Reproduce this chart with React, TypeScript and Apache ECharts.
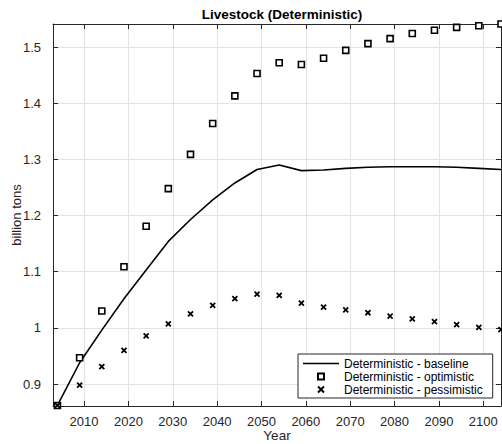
import React, { useEffect, useRef } from "react";
import * as echarts from "echarts";

const years = [2004, 2009, 2014, 2019, 2024, 2029, 2034, 2039, 2044, 2049, 2054, 2059, 2064, 2069, 2074, 2079, 2084, 2089, 2094, 2099, 2104];
const baseline = [0.862, 0.938, 0.996, 1.052, 1.103, 1.154, 1.193, 1.228, 1.258, 1.282, 1.290, 1.280, 1.281, 1.284, 1.286, 1.287, 1.287, 1.287, 1.286, 1.284, 1.282];
const optimistic = [0.862, 0.947, 1.030, 1.109, 1.181, 1.248, 1.309, 1.364, 1.413, 1.453, 1.472, 1.469, 1.480, 1.494, 1.506, 1.515, 1.524, 1.530, 1.535, 1.538, 1.541];
const pessimistic = [0.862, 0.898, 0.931, 0.960, 0.986, 1.007, 1.025, 1.040, 1.052, 1.060, 1.058, 1.044, 1.037, 1.032, 1.027, 1.021, 1.016, 1.011, 1.006, 1.001, 0.997];
const seriesNames = ["Deterministic - baseline", "Deterministic - optimistic", "Deterministic - pessimistic"];

const FONT = "'Liberation Sans', Arial, Helvetica, sans-serif";
const AXIS = "#262626";

export default function App() {
  const ref = useRef<HTMLDivElement>(null);
  useEffect(() => {
    const chart = echarts.init(ref.current!, null, { renderer: "svg" });
    const pair = (vals: number[]) => years.map((y, i) => [y, vals[i]]);
    const xCommon = {
      type: "value" as const,
      min: 2003,
      max: 2104,
      splitNumber: 10,
    };
    const yCommon = {
      type: "value" as const,
      min: 0.861,
      max: 1.541,
      splitNumber: 7,
    };
    chart.setOption({
      animation: false,
      backgroundColor: "#ffffff",
      textStyle: { fontFamily: FONT },
      title: {
        text: "Livestock (Deterministic)",
        left: 277,
        top: 2,
        textAlign: "center",
        textStyle: { fontSize: 13.5, fontWeight: "bold", color: "#000", fontFamily: FONT },
      },
      grid: { left: 53, right: 1, top: 24, bottom: 38, show: false, containLabel: false, outerBoundsMode: "none" },
      legend: {
        orient: "vertical",
        left: 298,
        top: 354,
        data: [
          { name: seriesNames[0], icon: "path://M0 0H36V1.6H0Z" },
          { name: seriesNames[1], icon: "path://M0 0H10V10H0Z" },
          { name: seriesNames[2] },
        ],
        itemWidth: 36,
        itemHeight: 6,
        itemGap: 0,
        padding: [3, 10, 2, 5],
        backgroundColor: "#ffffff",
        borderColor: AXIS,
        borderWidth: 1,
        borderRadius: 0,
        textStyle: { fontSize: 12, color: "#000", fontFamily: FONT, lineHeight: 13 },
      },
      xAxis: [
        {
          ...xCommon,
          position: "bottom",
          name: "Year",
          nameLocation: "middle",
          nameGap: 22,
          nameMoveOverlap: false,
          nameTextStyle: { fontSize: 13.5, color: AXIS, fontFamily: FONT, lineHeight: 14 },
          axisLine: { show: true, lineStyle: { color: AXIS, width: 1 } },
          axisTick: { show: true, inside: true, length: 5, lineStyle: { color: AXIS } },
          axisLabel: {
            show: true,
            showMinLabel: false,
            showMaxLabel: false,
            fontSize: 13,
            lineHeight: 13,
            color: AXIS,
            margin: 9,
            fontFamily: FONT,
            formatter: (v: number) => String(v),
          },
          splitLine: { show: true, lineStyle: { color: "#e3e3e3", width: 1 } },
        },
        {
          ...xCommon,
          position: "top",
          axisLine: { show: true, lineStyle: { color: AXIS, width: 1 } },
          axisTick: { show: true, inside: true, length: 5, lineStyle: { color: AXIS } },
          axisLabel: { show: false },
          splitLine: { show: false },
        },
      ],
      yAxis: [
        {
          ...yCommon,
          position: "left",
          name: "billion tons",
          nameLocation: "middle",
          nameGap: 30,
          nameRotate: 90,
          nameMoveOverlap: false,
          nameTextStyle: { fontSize: 13, color: AXIS, fontFamily: FONT },
          axisLine: { show: true, lineStyle: { color: AXIS, width: 1 } },
          axisTick: { show: true, inside: true, length: 5, lineStyle: { color: AXIS } },
          axisLabel: { show: true, showMinLabel: false, showMaxLabel: false, fontSize: 13, color: AXIS, margin: 12, fontFamily: FONT },
          splitLine: { show: true, lineStyle: { color: "#e3e3e3", width: 1 } },
        },
        {
          ...yCommon,
          position: "right",
          axisLine: { show: true, lineStyle: { color: AXIS, width: 1 } },
          axisTick: { show: true, inside: true, length: 5, lineStyle: { color: AXIS } },
          axisLabel: { show: false },
          splitLine: { show: false },
        },
      ],
      series: [
        {
          name: seriesNames[0],
          type: "line",
          xAxisIndex: 0,
          yAxisIndex: 0,
          data: pair(baseline),
          symbol: "none",
          lineStyle: { color: "#000", width: 1.6 },
          itemStyle: { color: "#000" },
          z: 3,
        },
        {
          name: seriesNames[1],
          type: "scatter",
          xAxisIndex: 0,
          yAxisIndex: 0,
          data: pair(optimistic),
          symbol: "rect",
          symbolSize: 6,
          itemStyle: { color: "#ffffff", borderColor: "#000", borderWidth: 1.6, opacity: 1 },
          z: 4,
        },
        {
          name: seriesNames[2],
          type: "scatter",
          xAxisIndex: 0,
          yAxisIndex: 0,
          data: pair(pessimistic),
          symbol: "path://M0 0L10 10M10 0L0 10",
          symbolSize: 5,
          itemStyle: { color: "none", borderColor: "#000", borderWidth: 1.8, opacity: 1 },
          z: 5,
        },
      ],
    });
    return () => chart.dispose();
  }, []);
  return <div ref={ref} style={{ position: "fixed", left: 0, top: 0, width: 502, height: 444 }} />;
}
